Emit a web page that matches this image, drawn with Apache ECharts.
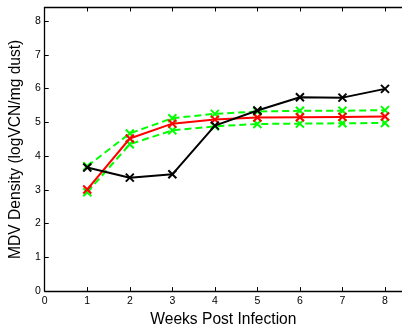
<!DOCTYPE html>
<html><head><meta charset="utf-8">
<script src="https://cdn.jsdelivr.net/npm/echarts@6/dist/echarts.min.js"></script>
<style>html,body{margin:0;padding:0;background:#fff}#c{width:402px;height:333px}</style>
</head><body><div id="c"></div>
<script>
var weeks = [1, 2, 3, 4, 5, 6, 7, 8];
var blackVals = [3.66, 3.36, 3.46, 4.90, 5.35, 5.74, 5.73, 5.99];
var redVals = [3.01, 4.52, 4.96, 5.08, 5.14, 5.15, 5.16, 5.17];
var greenUpper = [3.70, 4.67, 5.12, 5.25, 5.32, 5.34, 5.34, 5.36];
var greenLower = [2.93, 4.35, 4.76, 4.88, 4.95, 4.96, 4.97, 4.98];
var xTitle = 'Weeks Post Infection';
var yTitle = 'MDV Density (logVCN/mg dust)';

function pairs(v){ return weeks.map(function(w,i){ return [w, v[i]]; }); }
var FONT = "'Liberation Sans', Arial, sans-serif";
var cross = 'path://M0,0L10,10M0,10L10,0';
function intOnly(v){ return Math.abs(v - Math.round(v)) < 1e-6 ? String(Math.round(v)) : ''; }
function ser(name, vals, color, dashed){
  return {
    name: name, type: 'line', data: pairs(vals),
    symbol: cross, symbolSize: 8, showSymbol: true,
    itemStyle: { color: color, borderColor: color, borderWidth: 2 },
    lineStyle: { color: color, width: 2, type: dashed ? [7, 4] : 'solid' },
    emphasis: { disabled: true }, animation: false, z: dashed ? 2 : 3
  };
}
var chart = echarts.init(document.getElementById('c'), null, { renderer: 'canvas' });
chart.setOption({
  animation: false,
  grid: { left: 43.3, right: -3.5, top: 7.5, bottom: 37, containLabel: false },
  xAxis: [{
    type: 'value', position: 'bottom', min: 0, max: 8.4, interval: 1,
    name: xTitle, nameLocation: 'middle', nameGap: 24,
    nameTextStyle: { fontFamily: FONT, fontSize: 15.6, color: '#000', verticalAlign: 'middle' },
    axisLine: { show: true, onZero: false, lineStyle: { color: '#000', width: 1.3 } },
    axisTick: { show: true, inside: true, length: 4, lineStyle: { color: '#000' } },
    axisLabel: { fontFamily: FONT, fontSize: 10.5, color: '#000', margin: 5, formatter: intOnly, showMaxLabel: false },
    splitLine: { show: false }
  }, {
    type: 'value', position: 'top', min: 0, max: 8.4, interval: 1,
    axisLine: { show: true, onZero: false, lineStyle: { color: '#000', width: 1.3 } },
    axisTick: { show: true, inside: true, length: 4, lineStyle: { color: '#000' } },
    axisLabel: { show: false }, splitLine: { show: false }
  }],
  yAxis: [{
    type: 'value', position: 'left', min: 0, max: 8.4, interval: 1,
    name: yTitle, nameLocation: 'middle', nameGap: 22, nameRotate: 90,
    nameTextStyle: { fontFamily: FONT, fontSize: 15.6, color: '#000', verticalAlign: 'middle' },
    axisLine: { show: true, onZero: false, lineStyle: { color: '#000', width: 1.3 } },
    axisTick: { show: true, inside: true, length: 4, lineStyle: { color: '#000' } },
    axisLabel: { fontFamily: FONT, fontSize: 10.5, color: '#000', margin: 4, formatter: intOnly, showMaxLabel: false },
    splitLine: { show: false }
  }],
  series: [
    ser('upper', greenUpper, '#00ff00', true),
    ser('lower', greenLower, '#00ff00', true),
    ser('mean', redVals, '#ff0000', false),
    ser('black', blackVals, '#000000', false)
  ]
});
</script></body></html>
